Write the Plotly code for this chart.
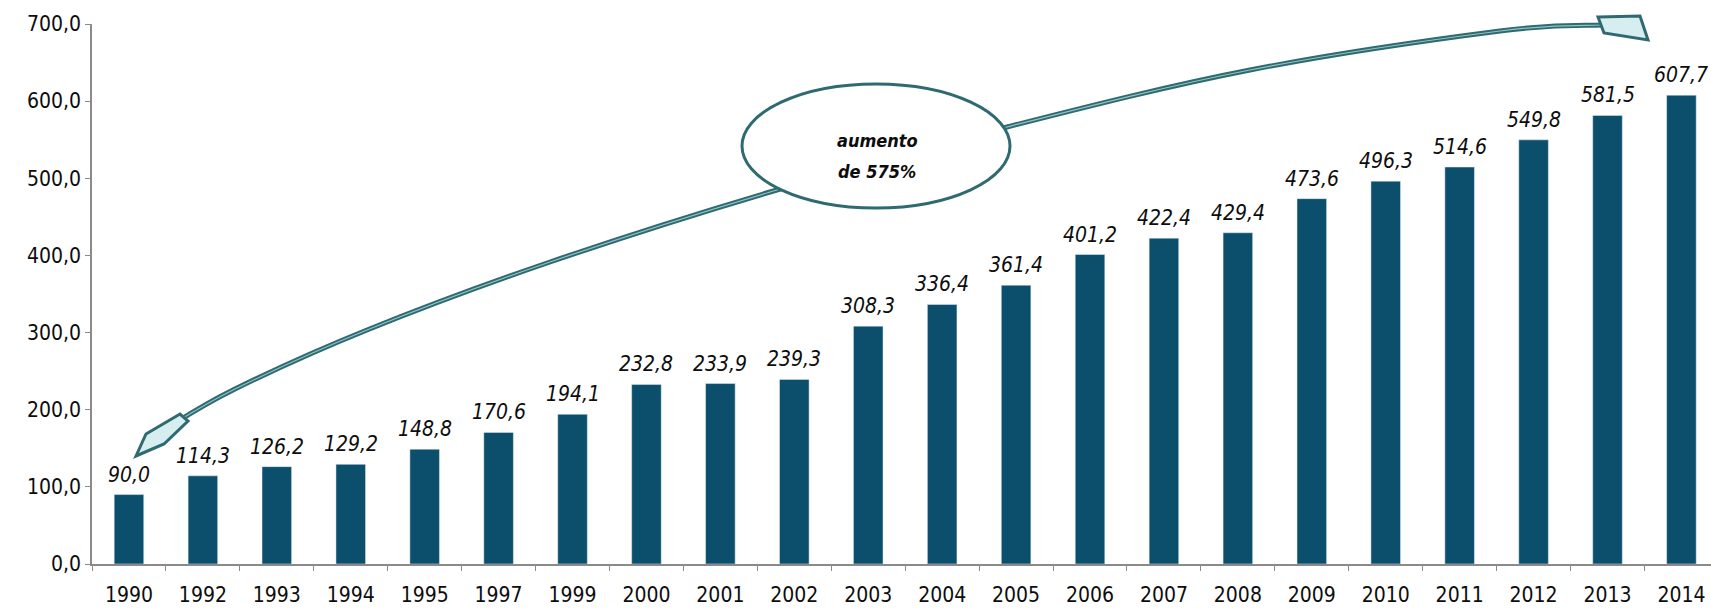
import plotly.graph_objects as go

years = ["1990", "1992", "1993", "1994", "1995", "1997", "1999", "2000", "2001", "2002",
         "2003", "2004", "2005", "2006", "2007", "2008", "2009", "2010", "2011", "2012",
         "2013", "2014"]
values = [90.0, 114.3, 126.2, 129.2, 148.8, 170.6, 194.1, 232.8, 233.9, 239.3,
          308.3, 336.4, 361.4, 401.2, 422.4, 429.4, 473.6, 496.3, 514.6, 549.8,
          581.5, 607.7]
y_ticks = [0, 100, 200, 300, 400, 500, 600, 700]
callout_lines = ["aumento", "de 575%"]

BAR = "#0b4f6c"
ARROW = "#2e6a70"
FONT = "DejaVu Sans Condensed, DejaVu Sans, sans-serif"
TXT = "#0d0d0d"

W, H = 1711, 610
ML, MR, MT, MB = 92, 0, 24, 46
PW, PH = W - ML - MR, H - MT - MB


def pp(x, y):
    return ((x - ML) / PW, (H - MB - y) / PH)


def smooth_path(pts):
    # Catmull-Rom to cubic Bezier in paper coords
    p = [pp(*q) for q in pts]
    d = f"M {p[0][0]:.5f},{p[0][1]:.5f}"
    for i in range(len(p) - 1):
        p0 = p[i - 1] if i > 0 else p[i]
        p1, p2 = p[i], p[i + 1]
        p3 = p[i + 2] if i + 2 < len(p) else p2
        c1 = (p1[0] + (p2[0] - p0[0]) / 6, p1[1] + (p2[1] - p0[1]) / 6)
        c2 = (p2[0] - (p3[0] - p1[0]) / 6, p2[1] - (p3[1] - p1[1]) / 6)
        d += f" C {c1[0]:.5f},{c1[1]:.5f} {c2[0]:.5f},{c2[1]:.5f} {p2[0]:.5f},{p2[1]:.5f}"
    return d


def poly_path(pts):
    p = [pp(*q) for q in pts]
    return "M " + " L ".join(f"{a:.5f},{b:.5f}" for a, b in p) + " Z"


fig = go.Figure()
fig.add_trace(go.Bar(x=years, y=values, marker_color=BAR, width=0.40,
                     hoverinfo="x+y"))

annotations = []
for i, v in enumerate(values):
    annotations.append(dict(x=i, y=v, xref="x", yref="y", yanchor="bottom",
                            yshift=6, showarrow=False,
                            text=f"<i>{v:.1f}</i>".replace(".", ","),
                            font=dict(family=FONT, size=21, color=TXT)))

arrow_pts = [(162, 431), (233, 390), (367, 330), (550, 262), (770, 192),
             (1007, 127), (1250, 70), (1500, 31), (1602, 25)]
curve = smooth_path(arrow_pts)

shapes = [
    dict(type="path", path=curve, xref="paper", yref="paper",
         line=dict(color=ARROW, width=5), layer="above"),
    dict(type="path", path=curve, xref="paper", yref="paper",
         line=dict(color="#8fc3c6", width=1.2), layer="above"),
    dict(type="path", path=poly_path([(136, 456), (146, 434), (180, 414), (188, 421), (164, 444)]),
         xref="paper", yref="paper", fillcolor="#d6eef0",
         line=dict(color=ARROW, width=3), layer="above"),
    dict(type="path", path=poly_path([(1598, 17), (1640, 16), (1648, 40), (1604, 33)]),
         xref="paper", yref="paper", fillcolor="#d6eef0",
         line=dict(color=ARROW, width=3), layer="above"),
]
ex0, ey0 = pp(742, 84)
ex1, ey1 = pp(1010, 208)
shapes.append(dict(type="circle", xref="paper", yref="paper",
                   x0=ex0, x1=ex1, y0=ey1, y1=ey0, fillcolor="white",
                   line=dict(color=ARROW, width=3), layer="above"))
for line_text, ypix in zip(callout_lines, [140, 171]):
    cx, cy = pp(877, ypix)
    annotations.append(dict(x=cx, y=cy, xref="paper", yref="paper", showarrow=False,
                            xanchor="center", yanchor="middle",
                            text=f"<b><i>{line_text}</i></b>",
                            font=dict(family=FONT, size=18, color=TXT)))

fig.update_layout(
    width=W, height=H,
    margin=dict(l=ML, r=MR, t=MT, b=MB, pad=0),
    paper_bgcolor="white", plot_bgcolor="white",
    separators=",.",
    showlegend=False,
    shapes=shapes,
    annotations=annotations,
    font=dict(family=FONT, color=TXT),
)
fig.update_xaxes(type="category", range=[-0.5, len(years) - 0.6],
                 showline=True, linecolor="#8a8a8a", linewidth=1.5,
                 ticks="outside", tickson="boundaries", ticklen=5, tickcolor="#8a8a8a",
                 tickfont=dict(family=FONT, size=21, color=TXT), tickangle=0,
                 ticklabelstandoff=11, showgrid=False, zeroline=False)
fig.update_yaxes(range=[0, 700], tickvals=y_ticks, tickformat=".1f",
                 showline=True, linecolor="#8a8a8a", linewidth=1.5,
                 ticks="outside", ticklen=5, tickcolor="#8a8a8a",
                 tickfont=dict(family=FONT, size=21, color=TXT),
                 showgrid=False, zeroline=False)

fig.write_html("out.html")
